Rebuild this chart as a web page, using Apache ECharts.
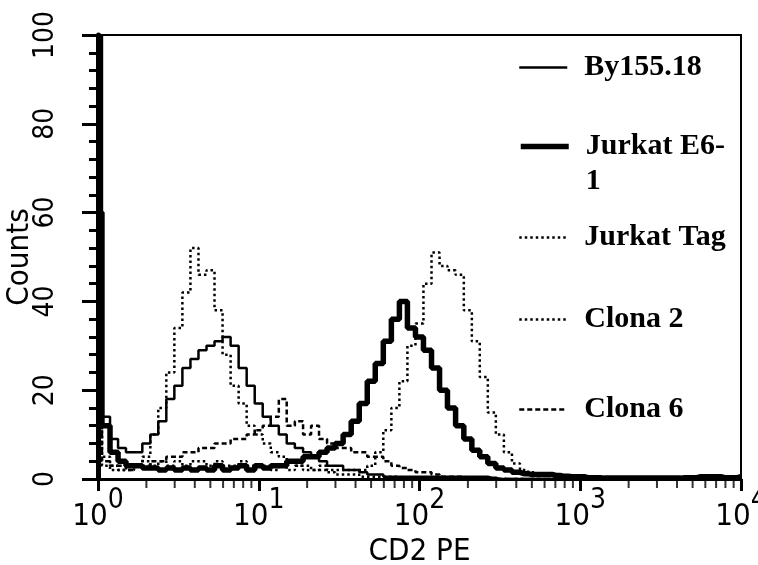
<!DOCTYPE html>
<html>
<head>
<meta charset="utf-8">
<script src="https://cdn.jsdelivr.net/npm/echarts@6/dist/echarts.min.js"></script>
<style>
html,body{margin:0;padding:0;background:#fff;}
#chart{width:758px;height:565px;}
</style>
</head>
<body>
<div id="chart"></div>
<script>
// Channel positions (CD2 PE intensity), 20 bins per decade
const xChannels = [
  1, 1.12, 1.26, 1.41, 1.58, 1.78, 2.0, 2.24, 2.51, 2.82, 3.16, 3.55, 3.98, 4.47, 5.01, 5.62, 6.31, 7.08, 7.94, 8.91,
  10, 11.2, 12.6, 14.1, 15.8, 17.8, 20, 22.4, 25.1, 28.2, 31.6, 35.5, 39.8, 44.7, 50.1, 56.2, 63.1, 70.8, 79.4, 89.1,
  100, 112, 126, 141, 158, 178, 200, 224, 251, 282, 316, 355, 398, 447, 501, 562, 631, 708, 794, 891,
  1000, 1120, 1260, 1410, 1580, 1780, 2000, 2240, 2510, 2820, 3160, 3550, 3980, 4470, 5010, 5620, 6310, 7080, 7940, 8910,
  10000
];
const seriesNames = ['By155.18', 'Jurkat E6-1', 'Jurkat Tag', 'Clona 2', 'Clona 6'];
const by155 = [
  100, 14, 9, 7, 6, 6, 8, 10, 13, 18, 21, 25, 27, 29, 30, 31, 32, 30, 25, 21,
  17, 14, 12, 10, 8, 7, 6, 5, 4, 3, 3, 2, 2, 1.5, 1, 1, 0.5, 0.5, 0.5, 0.5,
  0.5, 0.5, 0.5, 0.5, 0.5, 0.5, 0.5, 0.5, 0.5, 0.3, 0, 0, 0, 0, 0, 0, 0, 0, 0, 0,
  0, 0, 0, 0, 0, 0, 0, 0, 0, 0, 0, 0, 0, 0, 0, 0, 0, 0, 0, 0,
  0
];
const jurkatE6 = [
  60, 12, 6, 4, 3, 3, 2.5, 2.5, 2, 2.5, 2, 2.5, 2, 2.5, 2, 3, 2, 2.5, 3, 2,
  3, 2.5, 3, 3, 4, 4, 5, 5, 6, 7, 8, 10, 13, 17, 22, 26, 31, 36, 40, 34,
  32, 29, 25, 20, 16, 12, 9, 6.5, 5, 3.5, 2.5, 2, 1.5, 1.2, 1, 1, 1, 0.8, 0.6, 0.5,
  0.5, 0.3, 0.3, 0.2, 0.2, 0.2, 0.2, 0.2, 0.2, 0.2, 0.2, 0.2, 0.2, 0.3, 0.3, 0.5, 0.5, 0.5, 0.3, 0.3,
  0.5
];
const jurkatTag = [
  20, 5, 3, 2, 2, 3, 5, 10, 16, 24, 34, 42, 52, 46, 47, 38, 28, 21, 17, 12,
  10, 8, 6, 5, 4, 3, 3, 2, 2, 1.5, 1, 1, 1, 0.5, 0.5, 0.5, 0.5, 0.5, 0.3, 0.3,
  0, 0, 0, 0, 0, 0, 0, 0, 0, 0, 0, 0, 0, 0, 0, 0, 0, 0, 0, 0,
  0, 0, 0, 0, 0, 0, 0, 0, 0, 0, 0, 0, 0, 0, 0, 0, 0, 0, 0, 0,
  0
];
const clona2 = [
  15, 3, 2, 2, 3, 3, 4, 3, 4, 3, 4, 3, 4, 4, 3, 4, 3, 3, 4, 3,
  3, 3, 2, 3, 2, 3, 2, 2, 3, 2, 2, 2, 2, 2, 3, 6, 11, 16, 22, 30,
  35, 44, 51, 48, 47, 46, 38, 31, 23, 15, 10, 6, 3.5, 2, 1.5, 1, 1, 0.5, 0.5, 0.3,
  0.3, 0, 0, 0, 0, 0, 0, 0, 0, 0, 0, 0, 0, 0, 0, 0, 0, 0, 0, 0,
  0
];
const clona6 = [
  15, 4, 3, 3, 2, 3, 3, 4, 4, 5, 5, 6, 6, 7, 7, 8, 8, 9, 9, 10,
  11, 12, 14, 18, 12, 13, 10, 12, 9, 8, 7, 7, 6, 6, 5, 5, 4, 3, 2.5, 2,
  1.5, 1.5, 1, 0.5, 0.5, 0.5, 0.3, 0.3, 0, 0, 0, 0, 0, 0, 0, 0, 0, 0, 0, 0,
  0, 0, 0, 0, 0, 0, 0, 0, 0, 0, 0, 0, 0, 0, 0, 0, 0, 0, 0, 0,
  0
];
// minor tick positions of the log axis
const xMinorTicks = [2,3,4,5,6,7,8,9,20,30,40,50,60,70,80,90,200,300,400,500,600,700,800,900,2000,3000,4000,5000,6000,7000,8000,9000];

const allValues = [by155, jurkatE6, jurkatTag, clona2, clona6];
const lineStyles = [
  {width: 2.5, type: 'solid'},
  {width: 5.5, type: 'solid'},
  {width: 2.5, type: [2.5, 3]},
  {width: 2.5, type: [2.5, 3]},
  {width: 2.5, type: [5, 3]}
];
const legendTops = [50, 94, 220, 302, 392];

const sansNarrow = "'DejaVu Sans Condensed', 'DejaVu Sans', sans-serif";
const serif = "'Liberation Serif', 'Times New Roman', serif";

const chart = echarts.init(document.getElementById('chart'), null, {renderer: 'canvas'});

const lineSeries = seriesNames.map((name, k) => ({
  name: name,
  type: 'line',
  step: 'middle',
  symbol: 'none',
  animation: false,
  lineStyle: Object.assign({color: '#000'}, lineStyles[k]),
  itemStyle: {color: '#000'},
  z: k === 1 ? 2 : 3,
  data: xChannels.map((x, i) => [x, allValues[k][i]])
}));

const tickSeries = {
  name: 'minorTicks',
  type: 'scatter',
  symbol: 'rect',
  symbolSize: [2, 8],
  symbolOffset: [0, 5],
  clip: false,
  silent: true,
  animation: false,
  itemStyle: {color: '#000'},
  data: xMinorTicks.map(v => [v, 0])
};

const legends = seriesNames.map((name, k) => ({
  data: [name],
  left: 518,
  top: legendTops[k],
  padding: 0,
  itemWidth: 48,
  itemHeight: 14,
  selectedMode: false,
  formatter: n => n === 'Jurkat E6-1' ? '\nJurkat E6-\n1' : n,
  itemStyle: {opacity: 0},
  textStyle: {
    fontFamily: serif,
    fontWeight: 'bold',
    fontSize: 30,
    color: '#000',
    lineHeight: 35,
    padding: [0, 0, 0, 12]
  },
  lineStyle: {width: 'inherit', type: 'inherit', color: '#000'}
}));

chart.setOption({
  animation: false,
  backgroundColor: '#fff',
  grid: {left: 98, right: 17, top: 35, bottom: 86, containLabel: false, outerBoundsMode: 'none',
         show: true, borderColor: '#000', borderWidth: 2},
  legend: legends,
  xAxis: {
    type: 'log',
    logBase: 10,
    min: 1,
    max: 10000,
    name: 'CD2 PE',
    nameLocation: 'middle',
    nameGap: 57,
    nameMoveOverlap: false,
    nameTextStyle: {fontFamily: sansNarrow, fontSize: 31, color: '#000'},
    axisLine: {lineStyle: {color: '#000', width: 3}},
    axisTick: {length: 12, lineStyle: {color: '#000', width: 3}},
    splitLine: {show: false},
    axisLabel: {
      margin: 8,
      color: '#000',
      formatter: v => '{b|10}{s|' + Math.round(Math.log10(v)) + '}',
      rich: {
        b: {fontFamily: sansNarrow, fontSize: 31, padding: [14, 0, 0, 0], color: '#000'},
        s: {fontFamily: sansNarrow, fontSize: 28, verticalAlign: 'top', color: '#000'}
      }
    }
  },
  yAxis: {
    type: 'value',
    min: 0,
    max: 100,
    interval: 20,
    name: 'Counts',
    nameLocation: 'middle',
    nameRotate: 90,
    nameGap: 63,
    nameMoveOverlap: false,
    nameTextStyle: {fontFamily: sansNarrow, fontSize: 31, color: '#000'},
    axisLine: {show: true, lineStyle: {color: '#000', width: 5}},
    axisTick: {show: true, length: 16, lineStyle: {color: '#000', width: 3}},
    minorTick: {show: true, splitNumber: 5, length: 9, lineStyle: {color: '#000', width: 3}},
    splitLine: {show: false},
    axisLabel: {rotate: 90, margin: 38, fontFamily: sansNarrow, fontSize: 28, color: '#000'}
  },
  series: lineSeries.concat([tickSeries])
});
</script>
</body>
</html>
